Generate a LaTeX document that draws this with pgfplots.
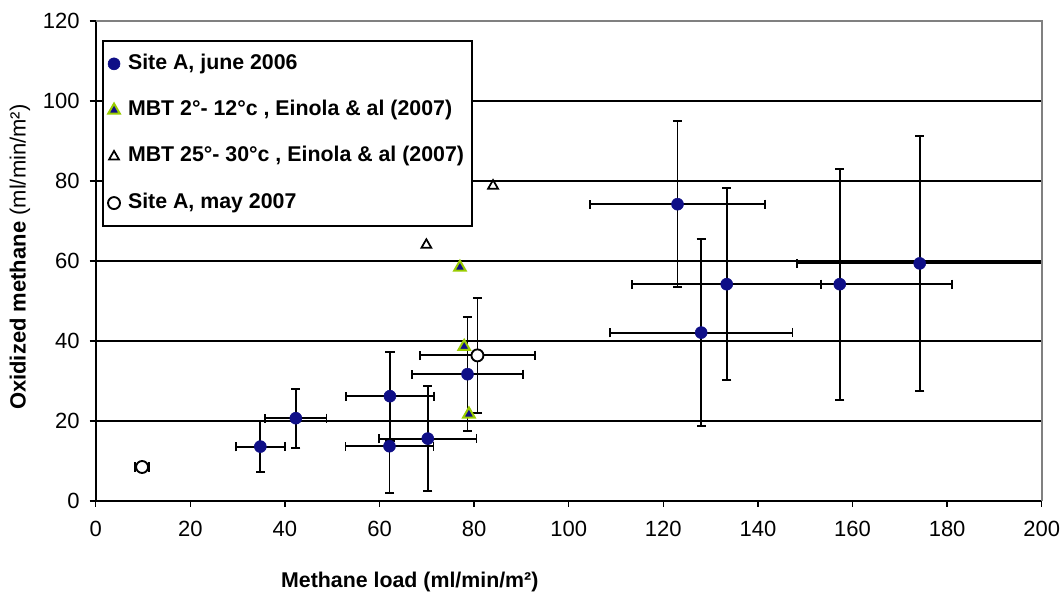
\documentclass[border=0pt]{standalone}
\usepackage{fontspec}
\setmainfont{Liberation Sans}
\usepackage{pgfplots}
\pgfplotsset{compat=1.18}
\definecolor{navyb}{RGB}{15,15,135}
\definecolor{ygreen}{RGB}{153,204,0}
\definecolor{framegray}{RGB}{128,128,128}
\begin{document}
\begin{tikzpicture}
\useasboundingbox (0,0) rectangle (798pt,444pt);
\begin{axis}[
  at={(71.8pt,68.25pt)}, anchor=south west,
  scale only axis, width=709.5pt, height=360pt,
  xmin=0, xmax=200, ymin=0, ymax=120,
  xtick={0,20,...,200}, ytick={0,20,...,120},
  axis x line*=bottom, axis y line*=left,
  tick align=outside, major tick length=4.5pt,
  ymajorgrids, grid style={black, line width=1.3pt},
  axis line style={black, line width=1.2pt},
  tick style={black, line width=1pt},
  ticklabel style={font=\fontsize{16.5}{19}\selectfont},
  yticklabel style={xshift=-4pt},
  xticklabel style={yshift=-7pt},
  /pgf/number format/assume math mode=true,
  xlabel={Methane load (ml/min/m²)},
  xlabel style={at={(axis description cs:0.332,-0.169)}, anchor=center, font=\bfseries\fontsize{16}{19}\selectfont},
  ylabel={\textbf{Oxidized methane} (ml/min/m²)},
  ylabel style={at={(axis description cs:-0.080,0.508)}, anchor=center, font=\fontsize{16.5}{19}\selectfont},
  legend style={at={(axis description cs:0.0063,0.960)}, anchor=north west,
    draw=black, line width=1.5pt, fill=white,
    font=\bfseries\fontsize{16}{19}\selectfont,
    nodes={text height=11.5pt, text depth=3.5pt, inner ysep=3pt, inner xsep=2pt},
    row sep=13.8pt, inner xsep=4pt, inner ysep=6.5pt,
    /tikz/every odd column/.append style={column sep=4pt}},
  legend cell align=left,
  legend image code/.code={\draw[#1] plot coordinates {(0pt,0pt)};},
  after end axis/.code={\draw[framegray, line width=1.5pt] (rel axis cs:0,1) -- (rel axis cs:1,1) -- (rel axis cs:1,0);},
  error bars/error bar style={black, line width=1.4pt},
  error bars/error mark options={black, line width=1.4pt, mark size=3.5pt, rotate=90},
]
% Site A, june 2006
\addplot[only marks, mark=*, mark size=4.5pt, mark options={fill=navyb, draw=navyb, line width=0.4pt},
  error bars/.cd, x dir=both, x explicit, y dir=both, y explicit]
  table[x=x, y=y, x error=ex, y error=ey] {
x     y     ex    ey
34.8  13.6  5.2   6.3
42.3  20.7  6.5   7.4
62.2  26.2  9.3   11.1
62.1  13.7  9.3   11.8
70.2  15.6  10.3  13.2
78.6  31.7  11.8  14.3
123.0 74.2  18.5  20.8
128.0 42.1  19.3  23.4
133.4 54.2  20.0  24.0
157.3 54.2  23.7  28.9
174.2 59.4  26.0  31.9
};
\addlegendentry{Site A, june 2006}
% MBT 2-12
\addplot[only marks, mark=triangle*, mark size=5pt, mark options={fill=navyb, draw=ygreen, line width=1.5pt}]
  table[x=x, y=y] {
x     y
77.0  58.4
77.9  38.6
78.9  21.7
};
\addlegendentry{MBT 2°- 12°c , Einola \& al (2007)}
% MBT 25-30
\addplot[only marks, mark=triangle*, mark size=4.3pt, mark options={fill=white, draw=black, line width=1.3pt}]
  table[x=x, y=y] {
x     y
69.9  64.0
84.0  78.8
};
\addlegendentry{MBT 25°- 30°c , Einola \& al (2007)}
% Site A, may 2007
\addplot[only marks, mark=*, mark size=4.5pt, mark options={fill=white, draw=black, line width=1.4pt},
  error bars/.cd, x dir=both, x explicit, y dir=both, y explicit]
  table[x=x, y=y, x error=ex, y error=ey] {
x     y     ex    ey
80.7  36.4  12.1  14.4
};
\addlegendentry{Site A, may 2007}
\addplot[forget plot, only marks, mark=*, mark size=4.5pt, mark options={fill=white, draw=black, line width=1.4pt},
  error bars/.cd, x dir=both, x explicit]
  table[x=x, y=y, x error=ex] {
x     y     ex
9.8   8.5   1.5
};
\end{axis}
\end{tikzpicture}
\end{document}
